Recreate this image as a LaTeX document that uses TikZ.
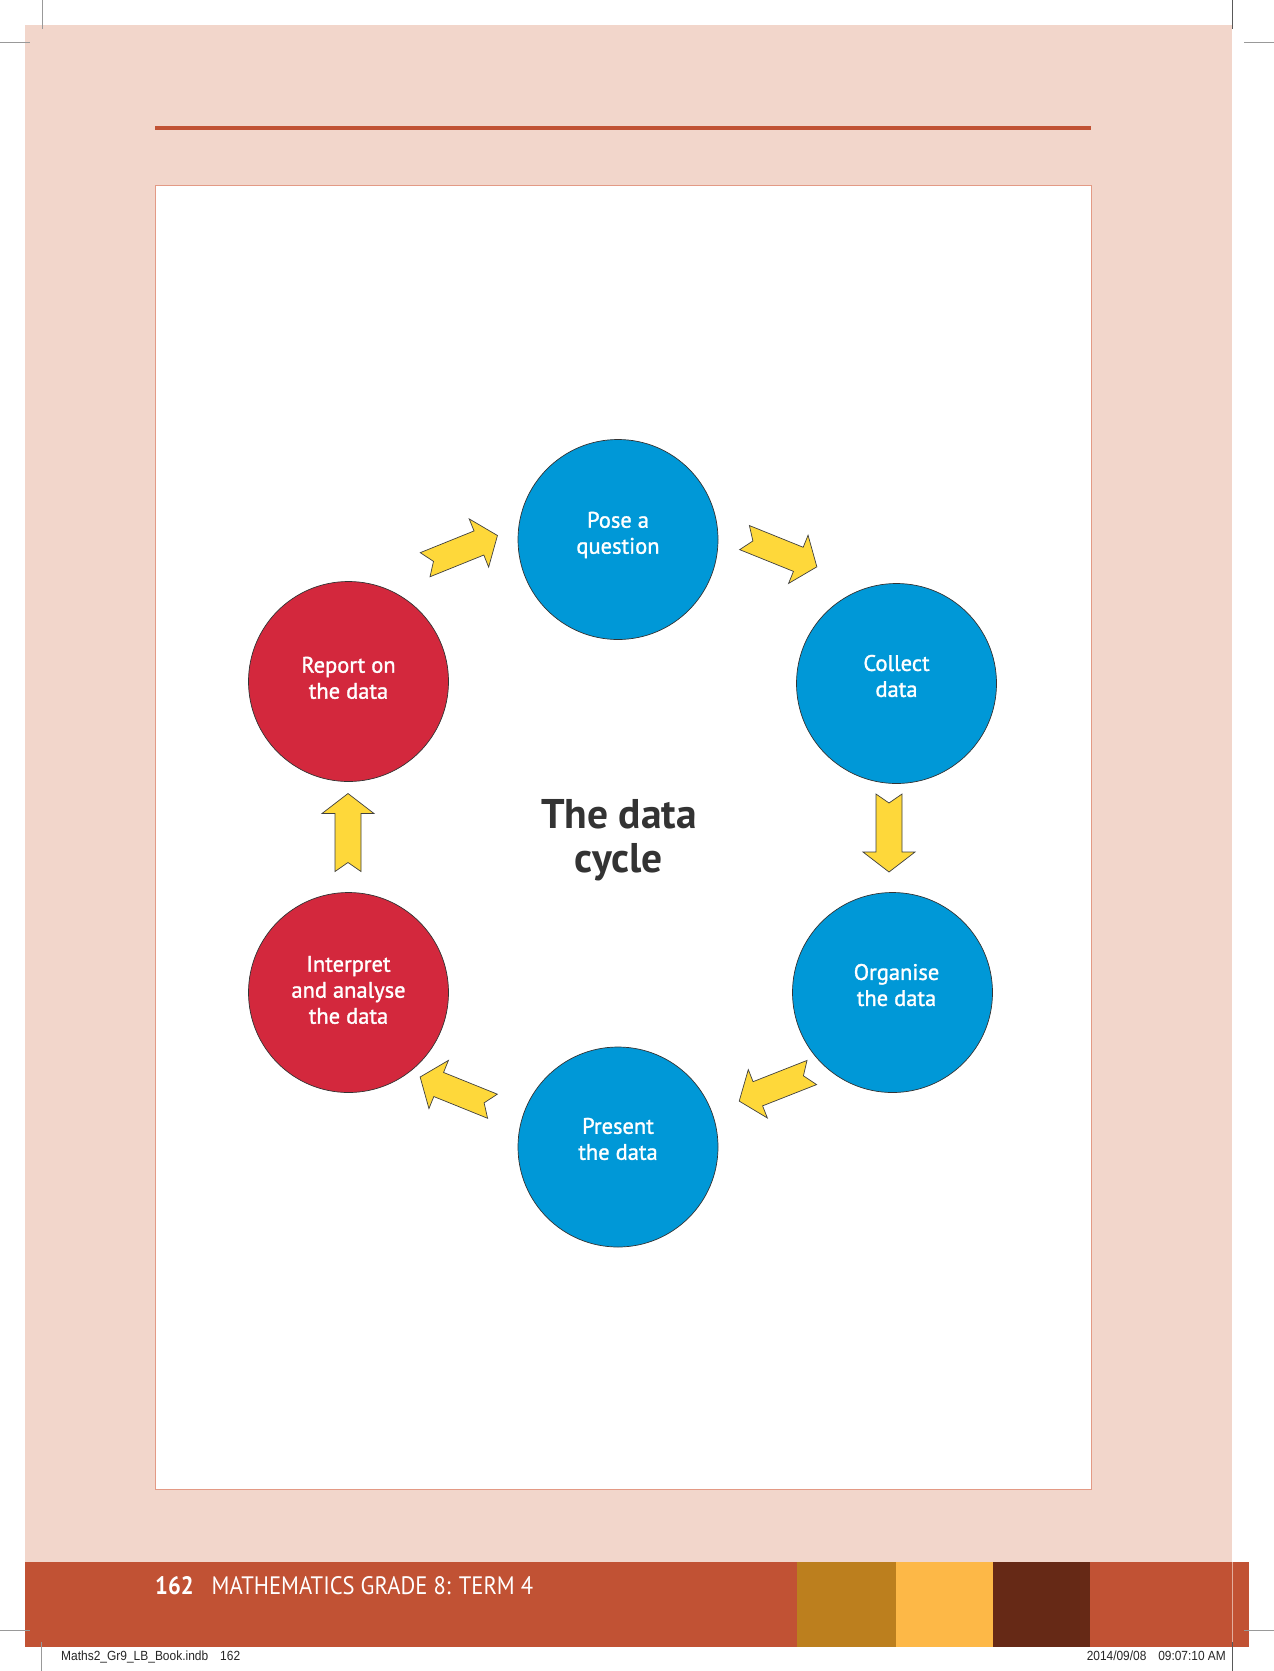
\documentclass[tikz,border=0pt]{standalone}
\usepackage{fontspec}
\setmainfont{PT Sans}
\newfontfamily\circfont[FakeBold=1.3]{PT Sans}
\newfontfamily\slugfont{Liberation Sans}
\definecolor{pinkbg}{HTML}{F2D6CB}
\definecolor{rust}{HTML}{C15234}
\definecolor{ochre}{HTML}{BC7F1E}
\definecolor{mango}{HTML}{FDB847}
\definecolor{brownblk}{HTML}{662916}
\definecolor{cycblue}{HTML}{0098D7}
\definecolor{cycred}{HTML}{D3283D}
\definecolor{arrowyel}{HTML}{FED83A}
\definecolor{boxline}{HTML}{E39A85}
\definecolor{titlegray}{HTML}{333333}
\newcommand\cycarrow[3]{%
  \draw[yelarrow, shift={(#1,#2)}, rotate=#3]
    (-39,13) -- (19,13) -- (19,26) -- (39,0) -- (19,-26) -- (19,-13)
    -- (-39,-13) -- (-30,0) -- cycle;}
\begin{document}
\begin{tikzpicture}[x=1pt,y=-1pt,
  cyc/.style={circle, minimum size=200pt, inner sep=0pt, draw=black!80, line width=0.7pt},
  cyctext/.style={text=white, align=center, font=\circfont\fontsize{22.5}{26}\selectfont, inner sep=0pt},
  yelarrow/.style={fill=arrowyel, draw=black!75, line width=0.7pt, line join=miter},
  cropmark/.style={draw=black!40, line width=1pt}]
\useasboundingbox (0,0) rectangle (1274,1671);
\fill[white] (0,0) rectangle (1274,1671);
% page background
\fill[pinkbg] (25,25) rectangle (1232,1562);
% footer bar
\fill[rust] (25,1562) rectangle (1249,1647);
\fill[ochre] (797,1562) rectangle (896,1647);
\fill[mango] (896,1562) rectangle (993,1647);
\fill[brownblk] (993,1562) rectangle (1090,1647);
\draw[pinkbg!70!rust, line width=0.8pt] (1232,1562) -- (1232,1647);
% top rule
\draw[rust, line width=3.5pt] (155,128) -- (1091,128);
% white panel
\draw[boxline, line width=1pt, fill=white] (155,185) rectangle (1091,1489.5);
% circles
\node[cyc, fill=cycblue] (pose) at (618,539.5) {};
\node[cyc, fill=cycblue] (collect) at (896.5,683.5) {};
\node[cyc, fill=cycblue] (organise) at (892.5,992.5) {};
\node[cyc, fill=cycblue] (present) at (618,1147) {};
\node[cyc, fill=cycred] (interpret) at (348.5,992.5) {};
\node[cyc, fill=cycred] (report) at (348.5,681.5) {};
\node[cyctext] (posetxt) at (618,535.5) {\strut Pose a\\\strut question};
\node[cyctext] (collecttxt) at (896.5,678.7) {\strut Collect\\\strut data};
\node[cyctext] (organisetxt) at (896.5,987.7) {\strut Organise\\\strut the data};
\node[cyctext] (presenttxt) at (618,1141.6) {\strut Present\\\strut the data};
\node[cyctext] (interprettxt) at (348.5,992.5) {\strut Interpret\\\strut and analyse\\\strut the data};
\node[cyctext] (reporttxt) at (348.5,680.5) {\strut Report on\\\strut the data};
% title
\node[text=titlegray, align=center, inner sep=0pt, font=\bfseries\fontsize{41.5}{44}\selectfont] (title) at (619,842) {\strut The data\\\strut cycle};
% yellow arrows
\cycarrow{461.3}{550.1}{22}
\cycarrow{780.7}{552.2}{-22}
\cycarrow{889}{833}{-90}
\cycarrow{775.5}{1086.8}{-158.5}
\cycarrow{456.3}{1091.6}{158}
\cycarrow{348}{832.5}{90}
% footer text
\node[anchor=base west, text=white, inner sep=0pt] (foot) at (155,1594)
  {\resizebox{378pt}{18pt}{\textbf{162}\hspace{0.8em}MATHEMATICS GRADE 8: TERM 4}};
\node[anchor=base west, inner sep=0pt, text=black!85] (slugl) at (61,1660)
  {\resizebox{179pt}{9.6pt}{\slugfont Maths2\_Gr9\_LB\_Book.indb\quad 162}};
\node[anchor=base east, inner sep=0pt, text=black!85] (slugr) at (1226,1660)
  {\resizebox{139pt}{9.6pt}{\slugfont 2014/09/08\quad 09:07:10 AM}};
% crop marks
\draw[cropmark] (42,0) -- (42,29);
\draw[cropmark] (0,42) -- (30,42);
\draw[cropmark, draw=black!65] (1232,0) -- (1232,29);
\draw[cropmark] (1244,42) -- (1274,42);
\draw[cropmark] (0,1630) -- (30,1630);
\draw[cropmark] (41,1642) -- (41,1671);
\draw[cropmark, draw=black!65] (1232,1642) -- (1232,1671);
\draw[cropmark] (1244,1630) -- (1274,1630);
\end{tikzpicture}
\end{document}
